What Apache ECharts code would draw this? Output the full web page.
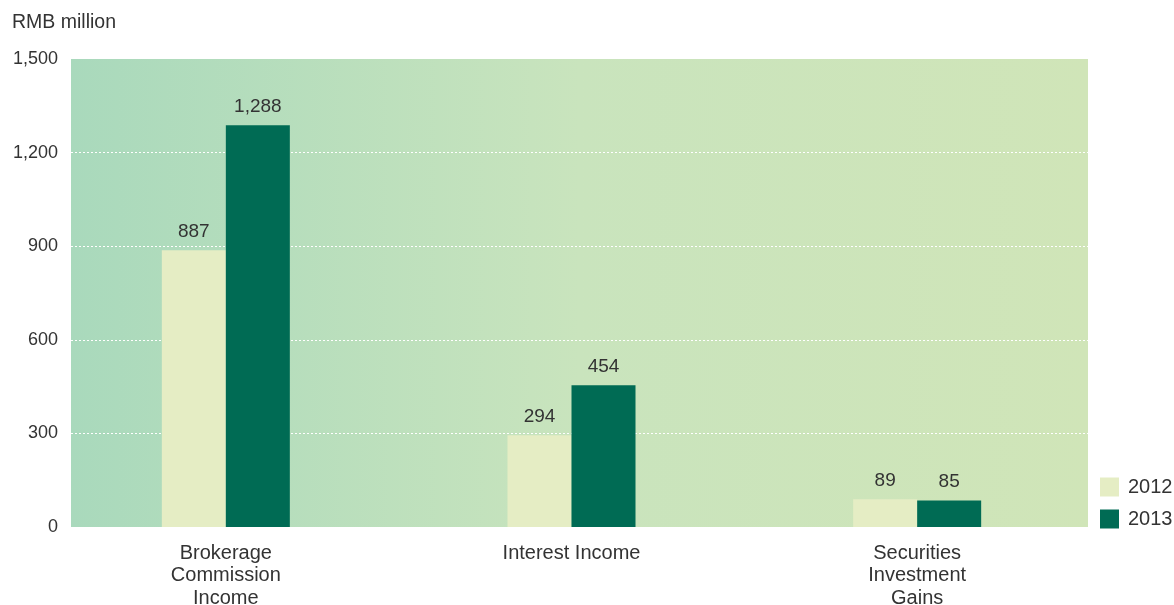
<!DOCTYPE html>
<html><head><meta charset="utf-8">
<script src="https://cdn.jsdelivr.net/npm/echarts@6/dist/echarts.min.js"></script>
<style>html,body{margin:0;padding:0;background:#fff}#c{width:1174px;height:605px}</style>
</head><body><div id="c"></div>
<script>
var categories = ['Brokerage\nCommission\nIncome', 'Interest Income', 'Securities\nInvestment\nGains'];
var values2012 = [887, 294, 89];
var values2013 = [1288, 454, 85];
var yTicks = [0, 300, 600, 900, 1200, 1500];

var chart = echarts.init(document.getElementById('c'));
var font = 'Liberation Sans, Arial, sans-serif';
function fmt(v) { return Number(v).toLocaleString('en-US'); }
chart.setOption({
  animation: false,
  textStyle: {fontFamily: font},
  title: {text: 'RMB million', left: 7, top: 8, textStyle: {fontSize: 19.5, fontWeight: 'normal', color: '#333', fontFamily: font}},
  legend: {
    orient: 'vertical', left: 1095, top: 472, itemWidth: 19, itemHeight: 19, itemGap: 12, icon: 'rect',
    textStyle: {fontSize: 20, color: '#333', fontFamily: font, padding: [0, 0, 0, 4]},
    data: ['2012', '2013']
  },
  grid: [
    {left: 71, right: 86, top: 59, bottom: 78, show: true, borderWidth: 0, outerBoundsMode: 'none',
     backgroundColor: new echarts.graphic.LinearGradient(0, 0, 1, 0, [
       {offset: 0, color: '#a9d9bc'}, {offset: 0.5, color: '#c9e4bd'}, {offset: 1, color: '#d0e5b8'}])},
    {left: 53, right: 84, top: 59, bottom: 78, outerBoundsMode: 'none'}
  ],
  xAxis: [
    {type: 'category', gridIndex: 0, data: categories, show: false},
    {type: 'category', gridIndex: 1, data: categories,
     axisLine: {show: false}, axisTick: {show: false},
     axisLabel: {fontSize: 20, color: '#333', lineHeight: 22.5, margin: 15, fontFamily: font}}
  ],
  yAxis: [
    {type: 'value', gridIndex: 0, min: yTicks[0], max: yTicks[yTicks.length - 1], interval: 300,
     axisLine: {show: false}, axisTick: {show: false},
     axisLabel: {fontSize: 18, color: '#333', margin: 13, fontFamily: font, formatter: fmt},
     splitLine: {show: true, showMinLine: false, showMaxLine: false, lineStyle: {color: '#ffffff', type: [2, 2], width: 1}}},
    {type: 'value', gridIndex: 1, min: yTicks[0], max: yTicks[yTicks.length - 1], interval: 300, show: false,
     splitLine: {show: false}}
  ],
  series: [
    {name: '2012', type: 'bar', xAxisIndex: 1, yAxisIndex: 1, data: values2012, barWidth: 64, barGap: '0%',
     itemStyle: {color: '#e5edc4'},
     label: {show: true, position: 'top', distance: 9, fontSize: 19, color: '#333', fontFamily: font,
       formatter: function (p) { return fmt(p.value); }}},
    {name: '2013', type: 'bar', xAxisIndex: 1, yAxisIndex: 1, data: values2013, barWidth: 64, barGap: '0%',
     itemStyle: {color: '#006b54'},
     label: {show: true, position: 'top', distance: 9, fontSize: 19, color: '#333', fontFamily: font,
       formatter: function (p) { return fmt(p.value); }}}
  ]
});
</script></body></html>
